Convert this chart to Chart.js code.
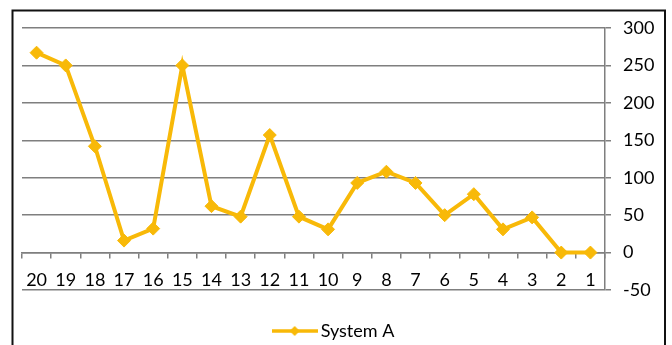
<!DOCTYPE html>
<html>
<head>
<meta charset="utf-8">
<script src="https://cdn.jsdelivr.net/npm/chart.js@4/dist/chart.umd.min.js"></script>
<style>
  html, body { margin: 0; padding: 0; background: #fff; overflow: hidden; }
  #wrap { position: relative; width: 672px; height: 350px; }
</style>
</head>
<body>
<div id="wrap"><canvas id="c"></canvas></div>
<script>
// Categories run from 20 down to 1
const categories = ['20','19','18','17','16','15','14','13','12','11','10','9','8','7','6','5','4','3','2','1'];
const seriesName = 'System A';
const systemA = [267, 250, 142, 16, 32, 250, 62, 48, 157, 48, 31, 93, 108, 93, 50, 78, 31, 47, 0, 0];
const yTicks = [-50, 0, 50, 100, 150, 200, 250, 300];

const GOLD = '#F8B908';
const FONT = 'Lato, "Open Sans", sans-serif';

// Legend symbol: a short line with a diamond in the middle
function legendSymbol() {
  const cv = document.createElement('canvas');
  cv.width = 46; cv.height = 12;
  const g = cv.getContext('2d');
  g.strokeStyle = GOLD;
  g.lineWidth = 3.5;
  g.beginPath(); g.moveTo(0, 6); g.lineTo(46, 6); g.stroke();
  g.fillStyle = GOLD;
  g.beginPath(); g.moveTo(23, 1); g.lineTo(28, 6); g.lineTo(23, 11); g.lineTo(18, 6); g.closePath(); g.fill();
  return cv;
}

// Outer frame around the whole chart
const framePlugin = {
  id: 'frame',
  beforeDraw(chart) {
    const ctx = chart.ctx;
    ctx.save();
    ctx.strokeStyle = '#111';
    ctx.lineWidth = 2;
    ctx.strokeRect(12.5, 10.5, 652.5, 400);
    ctx.restore();
  }
};

const symbol = legendSymbol();

new Chart(document.getElementById('c'), {
  type: 'line',
  data: {
    labels: categories,
    datasets: [{
      label: seriesName,
      data: systemA,
      borderColor: GOLD,
      backgroundColor: GOLD,
      borderWidth: 4,
      pointStyle: 'rectRot',
      pointRadius: 6.5,
      pointHoverRadius: 6.5,
      pointBorderWidth: 1,
      pointBorderColor: GOLD,
      tension: 0
    }]
  },
  options: {
    responsive: true,
    maintainAspectRatio: false,
    animation: false,
    layout: { padding: { left: 0, top: 28, right: 0, bottom: 0 } },
    plugins: {
      tooltip: { enabled: false },
      legend: {
        position: 'bottom',
        labels: {
          usePointStyle: true,
          pointStyle: symbol,
          pointStyleWidth: 34,
          boxHeight: 12,
          padding: 32,
          color: '#000',
          font: { family: FONT, size: 18 },
          generateLabels(chart) {
            return [{
              text: seriesName,
              pointStyle: symbol,
              fillStyle: GOLD,
              strokeStyle: GOLD,
              lineWidth: 0,
              hidden: false,
              datasetIndex: 0,
              fontColor: '#000'
            }];
          }
        }
      }
    },
    scales: {
      x: {
        type: 'category',
        position: { y: 0 },
        offset: true,
        grid: {
          display: true,
          drawOnChartArea: false,
          drawTicks: true,
          tickLength: 5,
          offset: true,
          color: '#7f7f7f',
          lineWidth: 1.5
        },
        border: { display: true, color: '#7f7f7f', width: 1.5 },
        ticks: {
          color: '#000',
          padding: 12,
          maxRotation: 0,
          autoSkip: false,
          font: { family: FONT, size: 18 }
        }
      },
      y: {
        position: 'right',
        min: -50,
        max: 300,
        afterBuildTicks(scale) {
          scale.ticks = yTicks.map(v => ({ value: v }));
        },
        afterFit(scale) { scale.width = 67; },
        grid: {
          color: '#7f7f7f',
          lineWidth: 1.5,
          drawTicks: true,
          tickLength: 6
        },
        border: { display: true, color: '#7f7f7f', width: 1.5 },
        ticks: {
          color: '#000',
          padding: 12,
          font: { family: FONT, size: 18 }
        }
      },
      // empty left margin so the plot starts inside the frame
      gutter: {
        type: 'linear',
        axis: 'y',
        position: 'left',
        grid: { display: false, drawTicks: false },
        border: { display: false },
        ticks: { display: false },
        afterFit(scale) { scale.width = 22; }
      }
    }
  },
  plugins: [framePlugin]
});
</script>
</body>
</html>
